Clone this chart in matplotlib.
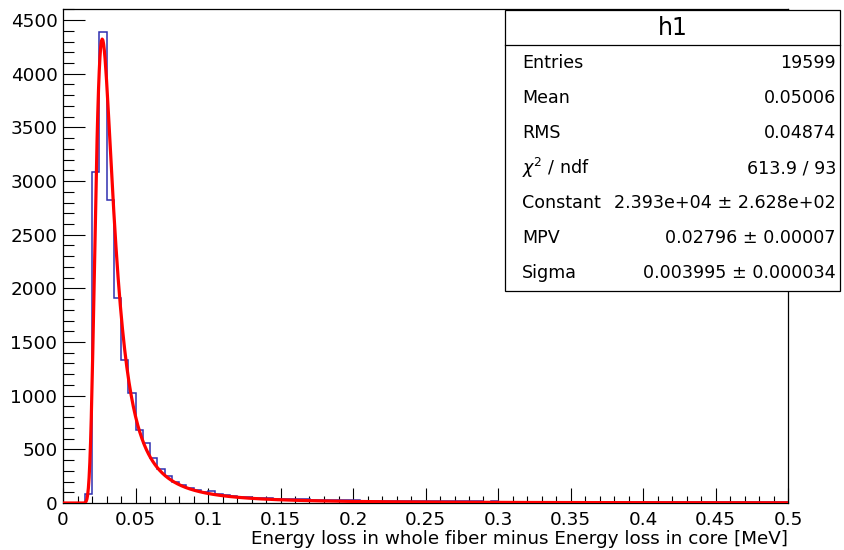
import numpy as np
import matplotlib
matplotlib.use("Agg")
import matplotlib.pyplot as plt
from matplotlib.patches import Rectangle
from matplotlib.lines import Line2D
from matplotlib.ticker import MultipleLocator, FuncFormatter

# histogram h1: 100 bins of 0.005 MeV from 0 to 0.5
bin_edges = np.linspace(0.0, 0.5, 101)
counts = [
    0, 0, 0, 80, 3082, 4387, 2824, 1913, 1333, 1022,
    680, 560, 415, 315, 255, 200, 170, 140, 120, 105,
    110, 85, 78, 66, 60, 54, 50, 46, 42, 40,
    41, 37, 40, 34, 31, 30, 28, 30, 28, 27,
    24, 22, 23, 20, 21, 19, 20, 18, 19, 17,
    18, 16, 17, 15, 16, 14, 15, 14, 13, 14,
    13, 12, 13, 12, 11, 12, 11, 11, 10, 11,
    10, 10, 9, 10, 9, 9, 10, 8, 9, 8,
    9, 8, 8, 7, 8, 7, 8, 7, 7, 6,
    7, 6, 7, 6, 6, 5, 6, 5, 6, 5,
]

# Landau fit parameters (from the stats box)
fit_constant = 2.393e4
fit_mpv = 0.02796
fit_sigma = 0.003995

stats_labels = ["Entries", "Mean", "RMS", r"$\chi^{2}$ / ndf", "Constant", "MPV", "Sigma"]
stats_values = ["19599", "0.05006", "0.04874", "613.9 / 93",
                "2.393e+04 \u00b1 2.628e+02", "0.02796 \u00b1 0.00007",
                "0.003995 \u00b1 0.000034"]


def landau(lam):
    # ROOT-style (non normalised) Landau density via the integral form
    out = np.zeros_like(lam)
    for i, l in enumerate(lam):
        if l < -3.2:
            continue
        T = 40.0 / max(l, 1.0)
        t = np.linspace(0.0, T, 20001)
        tlog = np.zeros_like(t)
        tlog[1:] = t[1:] * np.log(t[1:])
        f = np.exp(-tlog - l * t) * np.sin(np.pi * t)
        out[i] = np.trapezoid(f, t) / np.pi
    return out


W, H = 845, 550
fig = plt.figure(figsize=(W / 100, H / 100), dpi=100)
plt.rcParams['font.family'] = ['DejaVu Sans']
plt.rcParams['mathtext.fontset'] = 'dejavusans'
fs = 13.2
fs_stats = 12.6

x0, x1, y0, y1 = 63, 788, 9, 503
ax = fig.add_axes([x0 / W, 1 - y1 / H, (x1 - x0) / W, (y1 - y0) / H])

ax.stairs(counts, bin_edges, color='#2f2fb0', lw=1.1, zorder=2)

xf = np.linspace(0.0, 0.5, 1001)
yf = fit_constant * landau((xf - fit_mpv) / fit_sigma)
ax.plot(xf, yf, color='red', lw=2.3, zorder=3)

ax.set_xlim(0, 0.5)
ax.set_ylim(0, 4603)

ax.xaxis.set_major_locator(MultipleLocator(0.05))
ax.xaxis.set_minor_locator(MultipleLocator(0.01))
ax.yaxis.set_major_locator(MultipleLocator(500))
ax.yaxis.set_minor_locator(MultipleLocator(100))
ax.xaxis.set_major_formatter(FuncFormatter(lambda v, p: '%g' % round(v, 3)))
ax.yaxis.set_major_formatter(FuncFormatter(lambda v, p: '%g' % v))

ax.tick_params(axis='both', which='both', direction='in', top=False, right=False,
               width=0.8, labelsize=fs, colors='black')
ax.tick_params(axis='y', which='major', length=15.5, pad=4)
ax.tick_params(axis='y', which='minor', length=8)
ax.tick_params(axis='x', which='major', length=10.8, pad=6)
ax.tick_params(axis='x', which='minor', length=5.4)
for s in ax.spines.values():
    s.set_linewidth(0.9)

ax.set_xlabel('Energy loss in whole fiber minus Energy loss in core [MeV]',
              fontsize=fs, loc='right')
ax.xaxis.set_label_coords(1.0, -0.054)

# stats box
bx0, bx1, by0, by1 = 505, 840, 10, 291
fig.patches.append(Rectangle((bx0 / W, 1 - by1 / H), (bx1 - bx0) / W, (by1 - by0) / H,
                             transform=fig.transFigure, facecolor='white',
                             edgecolor='black', lw=0.9, zorder=5))
row_h = (by1 - by0) / 8
div_y = by0 + row_h
fig.lines.append(Line2D([bx0 / W, bx1 / W], [1 - div_y / H, 1 - div_y / H],
                        transform=fig.transFigure, color='black', lw=0.9, zorder=6))
fig.text((bx0 + bx1) / 2 / W, 1 - (by0 + row_h / 2) / H, 'h1', ha='center',
         va='center', fontsize=17, zorder=7)
for i, (lab, val) in enumerate(zip(stats_labels, stats_values)):
    yc = 1 - (div_y + row_h * (i + 0.5)) / H
    fig.text(522 / W, yc, lab, ha='left', va='center', fontsize=fs_stats, zorder=7)
    fig.text(836 / W, yc, val, ha='right', va='center', fontsize=fs_stats, zorder=7)

fig.savefig('out.png', dpi=100)
